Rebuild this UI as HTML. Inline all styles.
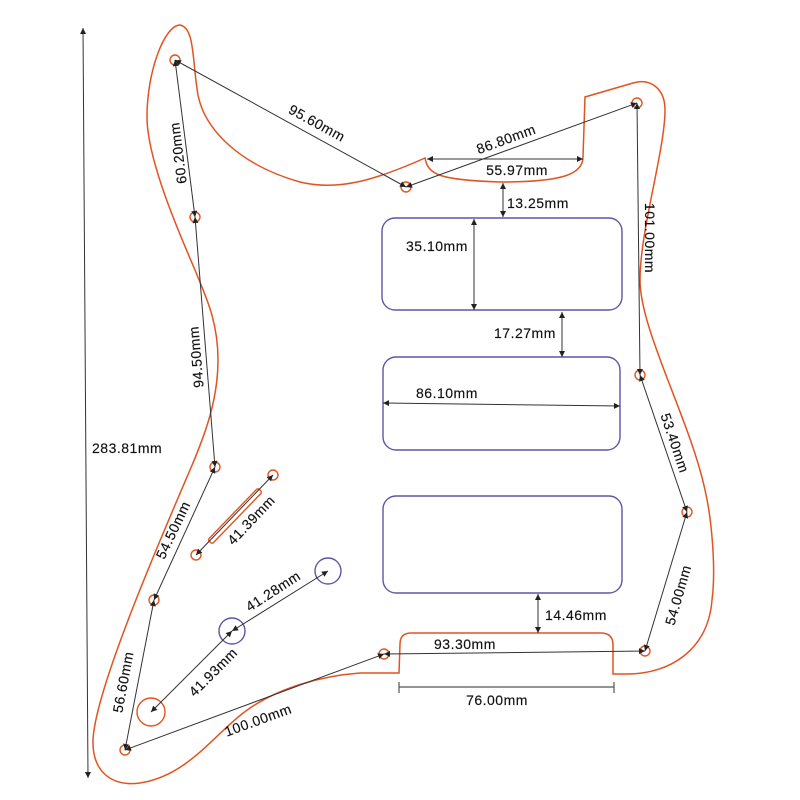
<!DOCTYPE html>
<html><head><meta charset="utf-8"><style>
html,body{margin:0;padding:0;background:#fff;}
svg{display:block;}
text{font-family:"Liberation Sans",Arial,sans-serif;font-size:14px;fill:#111;stroke:#111;stroke-width:0.15px;letter-spacing:0.5px;}
</style></head><body>
<svg width="800" height="800" viewBox="0 0 800 800" xmlns="http://www.w3.org/2000/svg">
<defs>
<marker id="a" viewBox="0 0 10 10" refX="10" refY="5" markerWidth="7" markerHeight="6" markerUnits="userSpaceOnUse" orient="auto-start-reverse">
<path d="M0,0 L10,5 L0,10 Z" fill="#222"/>
</marker>
</defs>

<!-- outline -->
<path fill="none" stroke="#e2531f" stroke-width="1.5" d="
M180,25 C195,28 192,60 198,95 C205,130 240,165 300,182 C340,192 380,178 425,158
C428,175 440,180 500,182 C560,182 583,175 583,157 L585,97 L633,83
C650,78 665,88 665,110 C665,150 640,230 640,280 C640,330 690,420 705,490
C712,520 716,570 712,600 C708,650 670,674 627,674 L613,674 L613,645 Q613,633 601,633
L411,633 Q400,633 400,644 L399,673 L360,673
C320,676 280,688 250,708 C215,732 190,775 140,783 C110,787 92,770 93,740
C95,690 160,540 190,470 C205,435 218,400 218,360 C218,320 205,295 195,270
C180,235 147,160 147,117 C147,70 165,25 180,25 Z"/>

<!-- pickups -->
<g fill="none" stroke="#5d55a8" stroke-width="1.4">
<rect x="382" y="218" width="240" height="92" rx="13"/>
<rect x="383" y="357" width="237" height="93" rx="13"/>
<rect x="383" y="496" width="239" height="97" rx="13"/>
<circle cx="232" cy="631" r="13"/>
<circle cx="328" cy="571" r="13"/>
</g>

<!-- holes -->
<g fill="none" stroke="#e2531f" stroke-width="1.4">
<circle cx="175" cy="60" r="5"/>
<circle cx="195" cy="217" r="5"/>
<circle cx="406" cy="187" r="5"/>
<circle cx="637" cy="103" r="5"/>
<circle cx="215" cy="467" r="5"/>
<circle cx="273" cy="475" r="5"/>
<circle cx="196" cy="555" r="5"/>
<circle cx="154" cy="600" r="5"/>
<circle cx="125" cy="750" r="5"/>
<circle cx="384" cy="654" r="5"/>
<circle cx="645" cy="651" r="5"/>
<circle cx="640" cy="375" r="5"/>
<circle cx="687" cy="512" r="5"/>
<circle cx="151" cy="712" r="14"/>
<rect x="-36" y="-3" width="72" height="6" rx="2" transform="translate(235,516) rotate(-46)"/>
</g>

<!-- dimension lines -->
<g stroke="#333" stroke-width="1" fill="none" marker-start="url(#a)" marker-end="url(#a)">
<line x1="83" y1="28" x2="88" y2="778"/>
<line x1="175" y1="60" x2="195" y2="217"/>
<line x1="175" y1="60" x2="406" y2="187"/>
<line x1="195" y1="217" x2="215" y2="467"/>
<line x1="406" y1="187" x2="637" y2="103"/>
<line x1="427" y1="159" x2="583" y2="159"/>
<line x1="503" y1="183" x2="503" y2="217"/>
<line x1="474" y1="219" x2="474" y2="310"/>
<line x1="562" y1="312" x2="562" y2="357"/>
<line x1="383" y1="403" x2="620" y2="406"/>
<line x1="637" y1="103" x2="640" y2="375"/>
<line x1="640" y1="375" x2="687" y2="512"/>
<line x1="687" y1="512" x2="645" y2="651"/>
<line x1="384" y1="654" x2="645" y2="651"/>
<line x1="538" y1="594" x2="538" y2="633"/>
<line x1="125" y1="750" x2="384" y2="654"/>
<line x1="154" y1="600" x2="125" y2="750"/>
<line x1="215" y1="467" x2="154" y2="600"/>
<line x1="273" y1="475" x2="196" y2="555"/>
<line x1="232" y1="631" x2="328" y2="571"/>
<line x1="151" y1="712" x2="232" y2="631"/>
</g>
<!-- 76.00 dimension -->
<g stroke="#555" stroke-width="1.2">
<line x1="399" y1="687" x2="614" y2="687"/>
<line x1="399" y1="682" x2="399" y2="693"/>
<line x1="614" y1="682" x2="614" y2="693"/>
</g>

<!-- labels -->
<g dominant-baseline="central">
<text x="92" y="448">283.81mm</text>
<text text-anchor="middle" transform="translate(178,153) rotate(-97)">60.20mm</text>
<text text-anchor="middle" transform="translate(317,123) rotate(28.7)">95.60mm</text>
<text text-anchor="middle" transform="translate(196,357) rotate(-94.8)">94.50mm</text>
<text text-anchor="middle" transform="translate(506,139) rotate(-20)">86.80mm</text>
<text text-anchor="middle" x="517" y="170">55.97mm</text>
<text x="507" y="203">13.25mm</text>
<text x="406" y="246">35.10mm</text>
<text x="494" y="333">17.27mm</text>
<text x="416" y="393">86.10mm</text>
<text text-anchor="middle" transform="translate(650,238) rotate(90)">101.00mm</text>
<text text-anchor="middle" transform="translate(675,443) rotate(71.4)">53.40mm</text>
<text text-anchor="middle" transform="translate(678,595) rotate(-74)">54.00mm</text>
<text x="434" y="644">93.30mm</text>
<text text-anchor="middle" x="497" y="700">76.00mm</text>
<text x="545" y="615">14.46mm</text>
<text text-anchor="middle" transform="translate(258,720) rotate(-20.1)">100.00mm</text>
<text text-anchor="middle" transform="translate(123,682) rotate(-79.4)">56.60mm</text>
<text text-anchor="middle" transform="translate(173,530) rotate(-64.7)">54.50mm</text>
<text text-anchor="middle" transform="translate(251,520) rotate(-46.5)">41.39mm</text>
<text text-anchor="middle" transform="translate(273,591) rotate(-33)">41.28mm</text>
<text text-anchor="middle" transform="translate(213,672) rotate(-45)">41.93mm</text>
</g>
</svg>
</body></html>
